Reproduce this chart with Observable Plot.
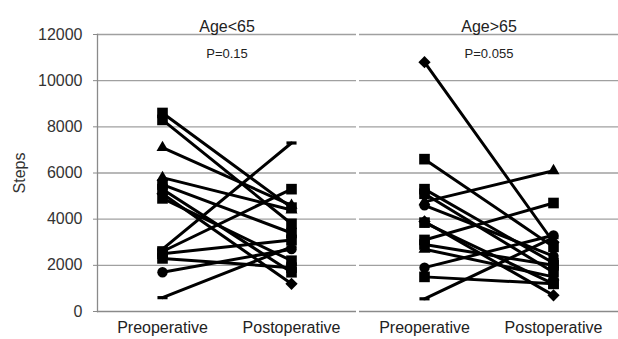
<!DOCTYPE html>
<html>
<head>
<meta charset="utf-8">
<script src="https://cdn.jsdelivr.net/npm/d3@7"></script>
<script src="https://cdn.jsdelivr.net/npm/@observablehq/plot@0.6"></script>
<style>
  body { margin: 0; background: #fff; }
  svg { font-family: "Liberation Sans", Arial, Helvetica, sans-serif; }
</style>
</head>
<body>
<div id="chart"></div>
<script>
const groups = ["Age<65", "Age>65"];
const phases = ["Preoperative", "Postoperative"];
const pLabels = ["P=0.15", "P=0.055"];
const yTicks = [0, 2000, 4000, 6000, 8000, 10000, 12000];

// Age<65 patients
const youngPre    = [8600, 8300, 7100, 5800, 5500, 5300, 5100, 4900, 2700, 2600, 2500, 2300, 1700, 600];
const youngPost   = [4500, 3800, 4600, 4400, 3400, 1700, 1200, 2200, 7300, 5300, 3100, 1900, 2700, 2800];
const youngMarker = ["square", "square", "triangle", "triangle", "square", "square", "diamond", "square", "dash", "square", "square", "square", "circle", "dash"];

// Age>65 patients
const oldPre    = [10800, 6600, 5300, 5100, 4750, 4600, 3900, 3850, 3100, 2900, 2700, 1900, 1500, 550];
const oldPost   = [3000, 2800, 2100, 1700, 6100, 2400, 700, 1200, 4700, 2000, 1500, 3300, 1200, 3200];
const oldMarker = ["diamond", "square", "square", "square", "triangle", "circle", "diamond", "square", "square", "square", "triangle", "circle", "square", "dash"];

const dash = {
  draw(context, size) {
    const w = Math.sqrt(size) * 0.95;
    context.rect(-w / 2, -1.6, w, 3.2);
  }
};
const scaled = (base, k) => ({draw(context, size) { base.draw(context, size * k); }});
const symbolMap = {
  square: d3.symbolSquare,
  triangle: scaled(d3.symbolTriangle, 0.55),
  diamond: scaled(d3.symbolDiamond2, 0.85),
  circle: scaled(d3.symbolCircle, 0.75),
  dash: dash
};

const rows = [];
function addGroup(group, pre, post, marker) {
  pre.forEach((v, i) => {
    rows.push({group, series: group + i, phase: phases[0], steps: v, marker: symbolMap[marker[i]]});
    rows.push({group, series: group + i, phase: phases[1], steps: post[i], marker: symbolMap[marker[i]]});
  });
}
addGroup(groups[0], youngPre, youngPost, youngMarker);
addGroup(groups[1], oldPre, oldPost, oldMarker);

const pRows = groups.map((g, i) => ({group: g, text: pLabels[i]}));

const chart = Plot.plot({
  width: 618,
  height: 339,
  marginLeft: 97,
  marginRight: 0,
  marginTop: 34,
  marginBottom: 28,
  style: {fontFamily: '"Liberation Sans", Arial, Helvetica, sans-serif', background: "#fff"},
  fx: {domain: groups, paddingInner: 0.012, paddingOuter: 0, axis: null},
  x: {type: "point", domain: phases, padding: 0.5, axis: null},
  y: {domain: [0, 12000], axis: null},
  marks: [
    Plot.gridY(yTicks.slice(1), {stroke: "#a0a0a0", strokeOpacity: 1, strokeWidth: 1.3}),
    Plot.ruleY([0], {stroke: "#8a8a8a", strokeWidth: 1.3}),
    Plot.frame({anchor: "left", stroke: "#8a8a8a", strokeWidth: 1.3, facetAnchor: "left"}),
    Plot.axisY({
      ticks: yTicks, tickSize: 4, tickPadding: 11, fontSize: 16, stroke: "#8a8a8a",
      color: "#333", tickFormat: d3.format("d"),
      label: "Steps", labelAnchor: "center", labelArrow: "none", labelOffset: 84
    }),
    Plot.axisX({tickSize: 0, tickPadding: 10, fontSize: 16, color: "#222", label: null}),
    Plot.line(rows, {fx: "group", x: "phase", y: "steps", z: "series", stroke: "black", strokeWidth: 3}),
    Plot.dot(rows, {fx: "group", x: "phase", y: "steps", symbol: "marker", fill: "black", r: 6}),
    Plot.text(groups, {fx: d => d, text: d => d, frameAnchor: "top", dy: -14, fontSize: 16, fill: "#222"}),
    Plot.text(pRows, {fx: "group", text: "text", frameAnchor: "top", dy: 14, fontSize: 13, fill: "#222"})
  ]
});
document.getElementById("chart").appendChild(chart);
</script>
</body>
</html>
